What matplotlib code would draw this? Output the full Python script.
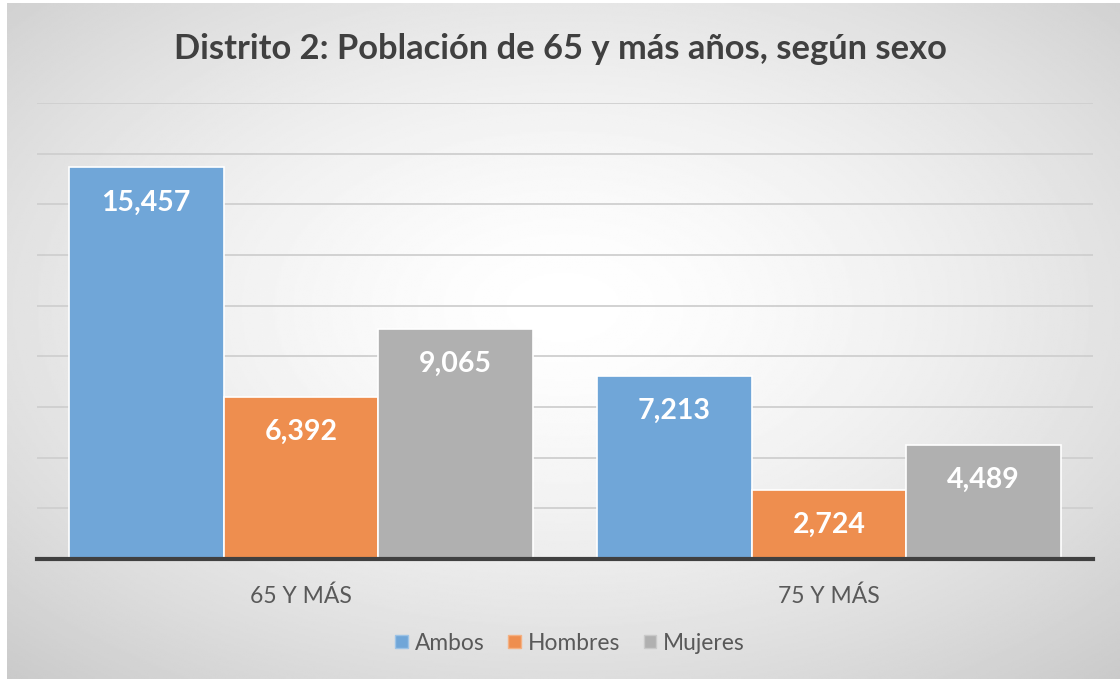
import numpy as np
import matplotlib.pyplot as plt

plt.rcParams['font.family'] = ['Lato', 'DejaVu Sans']

# datos
categorias = ["65 Y MÁS", "75 Y MÁS"]
ambos = [15457, 7213]
hombres = [6392, 2724]
mujeres = [9065, 4489]
series = ["Ambos", "Hombres", "Mujeres"]
colores = ["#70A6D8", "#EE8E4F", "#B0B0B0"]
bordes_ley = ["#9DC3E6", "#F4B183", "#C9C9C9"]

fig = plt.figure(figsize=(11.2, 6.79), dpi=100)

# fondo con degradado radial
bg = fig.add_axes([7 / 1120, 0, 1 - 7 / 1120, 1 - 3 / 679], zorder=0)
yy, xx = np.mgrid[0:1:400j, 0:1:600j]
d = np.sqrt(((xx - 0.5)) ** 2 + ((yy - 0.45)) ** 2)
val = np.clip(1 - 0.19 * (d / 0.7) ** 1.5, 0, 1)
bg.imshow(val, cmap="gray", vmin=0, vmax=1, aspect="auto", extent=[0, 1, 0, 1], origin="upper")
bg.axis("off")

ax = fig.add_axes([37 / 1120, 1 - 559 / 679, 1056 / 1120, 456 / 679], zorder=1)
ax.patch.set_alpha(0)

x = np.arange(len(categorias))
w = 0.293
for i, (vals, nombre, c) in enumerate(zip([ambos, hombres, mujeres], series, colores)):
    pos = x + (i - 1) * w
    bars = ax.bar(pos, vals, w, color=c, edgecolor="white", linewidth=1.2, label=nombre, zorder=2)
    for b, v in zip(bars, vals):
        ax.text(b.get_x() + b.get_width() / 2, v - 1380, f"{v:,}", ha="center", va="center",
                color="white", fontsize=20.5, fontweight="bold", zorder=3)

ax.set_xlim(-0.5, 1.5)
ax.set_ylim(0, 18000)
ax.set_yticks(np.arange(0, 18001, 2000))
ax.yaxis.grid(True, color="#CFCFCF", linewidth=1.3, zorder=1)
ax.set_axisbelow(True)
ax.tick_params(axis="y", left=False, labelleft=False)
ax.tick_params(axis="x", length=0, pad=19, labelsize=16.5, labelcolor="#595959")
ax.set_xticks(x)
ax.set_xticklabels(categorias)
for s in ["top", "right", "left"]:
    ax.spines[s].set_visible(False)
ax.spines["bottom"].set_color("#404040")
ax.spines["bottom"].set_linewidth(3)
ax.spines["bottom"].set_zorder(4)

fig.text(0.5, 1 - 49 / 679, "Distrito 2: Población de 65 y más años, según sexo", ha="center",
         va="center", fontsize=24.8, fontweight="bold", color="#404040")

leg = fig.legend(loc="center", bbox_to_anchor=(570 / 1120, 1 - 643 / 679), ncol=3, frameon=False,
                 fontsize=16.4, handlelength=0.55, handleheight=0.55, handletextpad=0.3,
                 columnspacing=1.05, labelcolor="#595959")
for h, bc in zip(leg.legend_handles, bordes_ley):
    h.set_edgecolor(bc)
    h.set_linewidth(1)

fig.savefig("out.png", dpi=100)
